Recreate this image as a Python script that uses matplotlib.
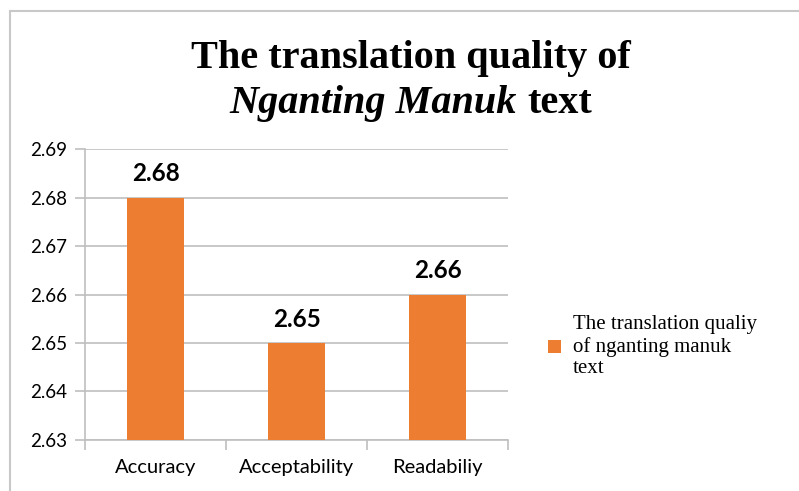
#!/usr/bin/env python3
import matplotlib.pyplot as plt
from matplotlib.patches import Rectangle
import numpy as np

categories = ['Accuracy', 'Acceptability', 'Readabiliy']
scores = [2.68, 2.65, 2.66]
value_labels = ['2.68', '2.65', '2.66']
yticks = [2.63, 2.64, 2.65, 2.66, 2.67, 2.68, 2.69]
legend_label = 'The translation qualiy\nof nganting manuk\ntext'

orange = '#ED7D31'
grid_grey = '#BFBFBF'
sans = ['Lato', 'DejaVu Sans']
serif = ['Liberation Serif', 'DejaVu Serif']

fig = plt.figure(figsize=(7.99, 4.91), dpi=100)
ax = fig.add_axes([0.1064, 0.1039, 0.5297, 0.5926])

# outer chart border (cut off at right and bottom in the original)
fig.patches.append(Rectangle((0.0125, -0.05), 1.1, 1.0276, transform=fig.transFigure,
                             fill=False, edgecolor='#C8C8C8', linewidth=1.5))

x = np.arange(len(categories))
bars = ax.bar(x, scores, width=0.4, color=orange, zorder=3, label=legend_label)

ax.set_xlim(-0.5, len(categories) - 0.5)
ax.set_ylim(2.63, 2.69)
ax.set_yticks(yticks)
ax.set_yticklabels([f'{t:.2f}' for t in yticks], fontfamily=sans, fontsize=13.5)
ax.yaxis.grid(True, color=grid_grey, linewidth=1.2, zorder=0)

ax.set_xticks(x)
ax.set_xticklabels(categories, fontfamily=sans, fontsize=14.5)
ax.tick_params(axis='x', length=0, pad=14)
ax.tick_params(axis='y', length=7, color=grid_grey, width=1.2, pad=6)
# boundary ticks between categories
ax.set_xticks(np.arange(len(categories) + 1) - 0.5, minor=True)
ax.tick_params(axis='x', which='minor', length=7, color=grid_grey, width=1.2)

for side in ['top', 'right']:
    ax.spines[side].set_visible(False)
for side in ['left', 'bottom']:
    ax.spines[side].set_color(grid_grey)
    ax.spines[side].set_linewidth(1.2)

for xi, val, lab in zip(x, scores, value_labels):
    ax.annotate(lab, (xi, val), xytext=(0, 17), textcoords='offset points',
                ha='center', va='center', fontfamily=sans, fontweight='bold',
                fontsize=17.5)

# title: two lines, second line mixes bold italic and bold
fig.text(0.514, 0.880, 'The translation quality of', ha='center', va='center',
         fontfamily=serif, fontweight='bold', fontsize=29)
part_a = fig.text(0, 0.790, 'Nganting Manuk ', ha='left', va='center',
                  fontfamily=serif, fontweight='bold', fontstyle='italic', fontsize=29)
part_b = fig.text(0, 0.790, 'text', ha='left', va='center',
                  fontfamily=serif, fontweight='bold', fontsize=29)
fig.canvas.draw()
r = fig.canvas.get_renderer()
wa = part_a.get_window_extent(r).width
wb = part_b.get_window_extent(r).width
W = fig.bbox.width
start = 0.514 * W - (wa + wb) / 2
part_a.set_x(start / W)
part_b.set_x((start + wa) / W)

ax.legend(loc='upper left', bbox_to_anchor=(1.05, 0.495), frameon=False,
          prop={'family': serif, 'size': 15}, handlelength=0.6,
          handleheight=0.6, handletextpad=0.6, labelspacing=0.3)

plt.savefig('out.png', dpi=100)
